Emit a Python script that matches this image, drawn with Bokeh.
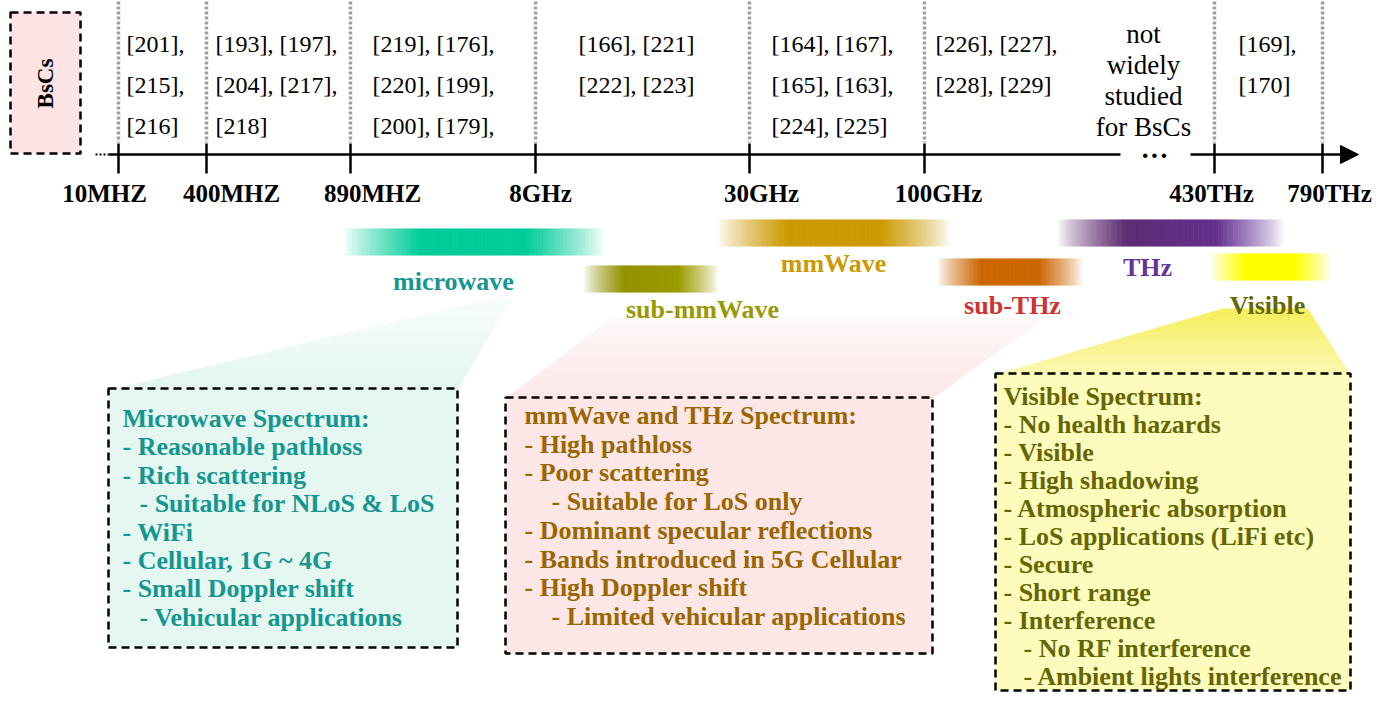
import numpy as np
from bokeh.plotting import figure
from bokeh.models import Range1d, Arrow, NormalHead
from bokeh.core.properties import value
from bokeh.embed import file_html
from bokeh.resources import INLINE

# ---------------- data ----------------
tick_labels = ["10MHZ", "400MHZ", "890MHZ", "8GHz", "30GHz", "100GHz", "430THz", "790THz"]
tick_pos = [118, 206, 350, 535, 749, 924, 1214, 1322]

citations = [
    ["[201],", "[215],", "[216]"],
    ["[193], [197],", "[204], [217],", "[218]"],
    ["[219], [176],", "[220], [199],", "[200], [179],"],
    ["[166], [221]", "[222], [223]"],
    ["[164], [167],", "[165], [163],", "[224], [225]"],
    ["[226], [227],", "[228], [229]"],
    ["[169],", "[170]"],
]
not_studied = ["not", "widely", "studied", "for BsCs"]

band_names = ["microwave", "sub-mmWave", "mmWave", "sub-THz", "THz", "Visible"]
band_start = [343, 583, 717, 937, 1057, 1210]
band_end = [603, 718, 950, 1082, 1283, 1330]
band_colors = [("#00cc99", "#00cc99"), ("#8c8c00", "#a0a000"), ("#cc9900", "#cc9900"),
               ("#cc6600", "#cc6600"), ("#5a2860", "#6633a0"), ("#ffff00", "#ffff00")]
label_colors = ["#17958f", "#999900", "#cc9900", "#cc3333", "#663399", "#666600"]

mw_lines = ["Microwave Spectrum:", "- Reasonable pathloss", "- Rich scattering",
            "- Suitable for NLoS & LoS", "- WiFi", "- Cellular, 1G ~ 4G",
            "- Small Doppler shift", "- Vehicular applications"]
mw_indent = [0, 0, 0, 1, 0, 0, 0, 1]
mm_lines = ["mmWave and THz Spectrum:", "- High pathloss", "- Poor scattering",
            "- Suitable for LoS only", "- Dominant specular reflections",
            "- Bands introduced in 5G Cellular", "- High Doppler shift",
            "- Limited vehicular applications"]
mm_indent = [0, 0, 0, 1, 0, 0, 0, 1]
vis_lines = ["Visible Spectrum:", "- No health hazards", "- Visible", "- High shadowing",
             "- Atmospheric absorption", "- LoS applications (LiFi etc)", "- Secure",
             "- Short range", "- Interference", "- No RF interference",
             "- Ambient lights interference"]
vis_indent = [0, 0, 0, 0, 0, 0, 0, 0, 0, 1, 1]

# ---------------- layout ----------------
W, H = 1374, 693
p = figure(width=W, height=H, x_range=Range1d(0, W), y_range=Range1d(5 + H, 5),
           output_backend="svg", toolbar_location=None, min_border=0)
p.axis.visible = False
p.grid.visible = False
p.outline_line_color = None
p.background_fill_color = "white"

SERIF = value("Liberation Serif")
AXIS_Y = 159


def hex2rgb(h):
    return np.array([int(h[i:i + 2], 16) for i in (1, 3, 5)], dtype=float)


def rgbhex(v):
    return "#%02x%02x%02x" % tuple(int(round(c)) for c in v)


def callout(top_l, top_r, y_top, bot_l, bot_r, y_bot, c_top, c_bot, K=24):
    xs, ys, cs = [], [], []
    ct, cb = hex2rgb(c_top), hex2rgb(c_bot)
    for k in range(K):
        f0, f1 = k / K, (k + 1) / K
        ya, yb = y_top + (y_bot - y_top) * f0, y_top + (y_bot - y_top) * f1 + 0.6
        la, lb = top_l + (bot_l - top_l) * f0, top_l + (bot_l - top_l) * min(f1 + 0.6 / (y_bot - y_top), 1)
        ra, rb = top_r + (bot_r - top_r) * f0, top_r + (bot_r - top_r) * min(f1 + 0.6 / (y_bot - y_top), 1)
        xs.append([la, ra, rb, lb]); ys.append([ya, ya, yb, yb])
        cs.append(rgbhex(ct + (cb - ct) * (k + 0.5) / K))
    p.patches(xs, ys, fill_color=cs, line_color=None)


# callout shapes (drawn first, behind boxes)
callout(496, 512, 302, 110, 457, 394, "#f8fdfb", "#e2f6ef")
callout(612, 1045, 322, 505, 932, 403, "#fef8f8", "#fce7e7")
callout(1223, 1307, 313, 995, 1350, 379, "#f6ee5a", "#fbf8b4")

# BsCs box
p.quad(left=[10], right=[80], top=[17], bottom=[158], fill_color="#fde4e4",
       line_color="black", line_width=2.5, line_dash="8 5")
p.text(x=[45], y=[88], text=["BsCs"], angle=np.pi / 2, text_font=SERIF,
       text_font_style="bold", text_font_size=value("23px"), text_align="center",
       text_baseline="middle", text_color="black")

# dotted guides
p.segment(x0=tick_pos, y0=[6] * len(tick_pos), x1=tick_pos, y1=[147] * len(tick_pos),
          line_color="#a0a0a0", line_width=3.5, line_dash="3 2")

# axis
p.segment(x0=[95], y0=[AXIS_Y], x1=[108], y1=[AXIS_Y], line_color="black", line_width=2,
          line_dash="2 2")
p.segment(x0=[108], y0=[AXIS_Y], x1=[1120], y1=[AXIS_Y], line_color="black", line_width=2.5)
p.add_layout(Arrow(end=NormalHead(size=18, fill_color="black", line_color="black"),
                   x_start=1190, y_start=AXIS_Y, x_end=1358, y_end=AXIS_Y,
                   line_color="black", line_width=2.5))
p.text(x=[1154], y=[AXIS_Y + 1], text=["···"], text_font=SERIF, text_font_style="bold",
       text_font_size=value("28px"), text_align="center", text_baseline="middle",
       text_color="black")
p.segment(x0=tick_pos, y0=[148] * len(tick_pos), x1=tick_pos, y1=[178] * len(tick_pos),
          line_color="black", line_width=2.5)
label_dx = [-14, 25, 22, 5, 12, 14, -3, 7]
p.text(x=[t + d for t, d in zip(tick_pos, label_dx)], y=[198] * len(tick_pos),
       text=tick_labels, text_font=SERIF, text_font_style="bold",
       text_font_size=value("25px"), text_align="center", text_baseline="middle",
       text_color="black")

# citations
cit_x = [126, 215, 372, 578, 771, 935, 1238]
row_y = [48, 89, 130]
xs, ys, ts = [], [], []
for cx, col in zip(cit_x, citations):
    for r, t in enumerate(col):
        xs.append(cx); ys.append(row_y[r]); ts.append(t)
p.text(x=xs, y=ys, text=ts, text_font=SERIF, text_font_size=value("24px"),
       text_align="left", text_baseline="middle", text_color="black")
p.text(x=[1143] * 4, y=[38, 69, 100, 131], text=not_studied, text_font=SERIF,
       text_font_size=value("27px"), text_align="center", text_baseline="middle",
       text_color="black")

# gradient bands
band_top = [233, 270, 224, 263, 224, 258]
band_h = 27

N = 90
L, R, T, B, C = [], [], [], [], []
for s, e, (c0, c1), top in zip(band_start, band_end, band_colors, band_top):
    w = (e - s) / N
    a0, a1 = hex2rgb(c0), hex2rgb(c1)
    for i in range(N):
        t = (i + 0.5) / N
        a = np.clip(min(t, 1 - t) / 0.3, 0, 1) ** 0.8
        base = a0 * (1 - t) + a1 * t
        rgb = base * a + 255 * (1 - a)
        L.append(s + i * w); R.append(s + (i + 1) * w + 0.6)
        T.append(top); B.append(top + band_h)
        C.append(rgbhex(rgb))
p.quad(left=L, right=R, top=T, bottom=B, fill_color=C, line_color=None)

label_x = [453, 702, 833, 1012, 1147, 1267]
label_y = [286, 314, 268, 310, 272, 310]
p.text(x=label_x, y=label_y, text=band_names, text_font=SERIF, text_font_style="bold",
       text_font_size=value("26px"), text_align="center", text_baseline="middle",
       text_color=label_colors)

# boxes
p.quad(left=[108, 505, 995], right=[457, 932, 1350], top=[393, 402, 378],
       bottom=[652, 658, 695], fill_color=["#e4f7f1", "#fde6e6", "#fdfcbc"],
       line_color="black", line_width=2.5, line_dash="8 5")


def box_text(lines, indent, x0, y0, step, color, ind=17):
    p.text(x=[x0 + ind * k for k in indent], y=[y0 + step * i for i in range(len(lines))],
           text=lines, text_font=SERIF, text_font_style="bold",
           text_font_size=value("26px"), text_align="left", text_baseline="middle",
           text_color=color)


box_text(mw_lines, mw_indent, 122, 423, 28.4, "#17958f")
box_text(mm_lines, mm_indent, 524, 420, 28.7, "#996600", ind=27)
box_text(vis_lines, vis_indent, 1003, 401, 28.0, "#666600", ind=20)

open("out.html", "w").write(file_html(p, INLINE))
